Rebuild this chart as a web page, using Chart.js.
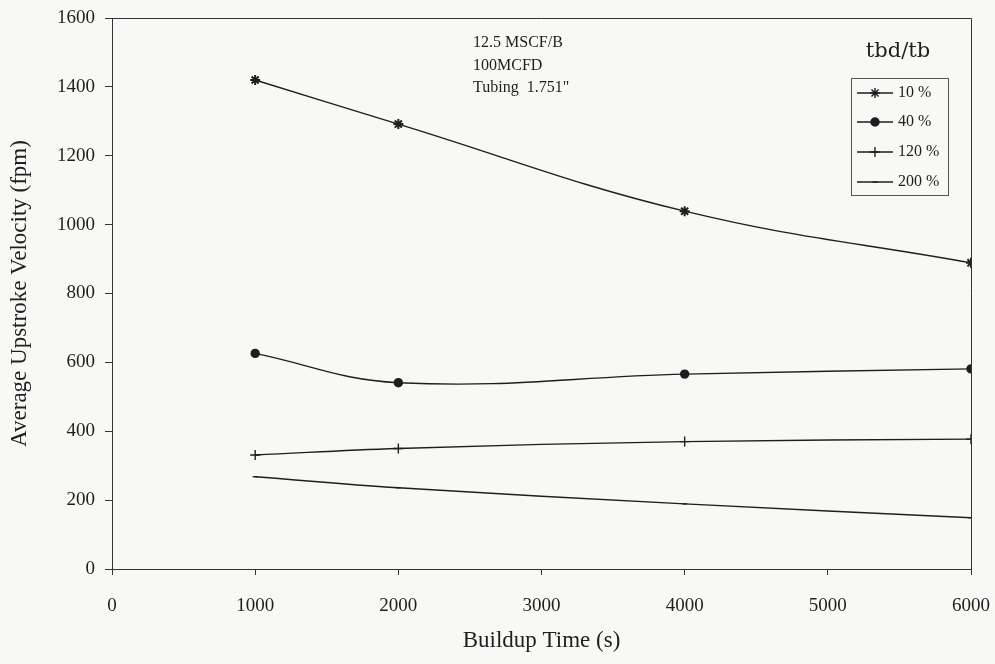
<!DOCTYPE html>
<html>
<head>
<meta charset="utf-8">
<script src="https://cdn.jsdelivr.net/npm/chart.js@4"></script>
<style>
  html, body { margin: 0; padding: 0; background: #f8f8f6; }
  #wrap { width: 995px; height: 664px; }
</style>
</head>
<body>
<div id="wrap"><canvas id="velChart" width="995" height="664"></canvas></div>
<script>
// Daten (Buildup-Zeit in s, Geschwindigkeit in fpm)
var buildupTime = [1000, 2000, 4000, 6000];
var vel10  = [1420, 1292, 1039, 889];
var vel40  = [626, 541, 566, 581];
var vel120 = [331, 350, 370, 377];
var vel200 = [268, 236, 189, 149];

var seriesNames  = ["10 %", "40 %", "120 %", "200 %"];
var seriesStyles = ["star", "circle", "cross", "line"];
var seriesRadius = [5, 4, 5, 2.5];
var notes = ["12.5 MSCF/B", "100MCFD", "Tubing  1.751\""];
var legendTitle = "tbd/tb";

var ink = "#1e1e1e";
var serif = "'Liberation Serif', 'DejaVu Serif', serif";

function toPoints(ys) {
    return buildupTime.map(function (t, i) { return { x: t, y: ys[i] }; });
}

function makeSet(label, ys, k) {
    return {
        label: label,
        data: toPoints(ys),
        borderColor: ink,
        backgroundColor: ink,
        borderWidth: 1.4,
        tension: 0.4,
        pointStyle: seriesStyles[k],
        pointRadius: seriesRadius[k],
        pointBorderWidth: k === 0 ? 2 : 1.4,
        fill: false
    };
}

function plainTick(v) { return String(v); }   // keine Tausender-Kommas

// Rahmen, Notiz und Legende per Hand zeichnen
var extras = {
    id: "extras",
    afterDraw: function (chart) {
        var ctx = chart.ctx;
        var a = chart.chartArea;
        ctx.save();
        ctx.strokeStyle = "#333";
        ctx.lineWidth = 1;
        ctx.beginPath();
        ctx.moveTo(a.left, a.top + 0.5);
        ctx.lineTo(a.right + 0.5, a.top + 0.5);
        ctx.lineTo(a.right + 0.5, a.bottom);
        ctx.stroke();

        // Notiz oben
        ctx.fillStyle = ink;
        ctx.font = "16px " + serif;
        ctx.textBaseline = "middle";
        ctx.textAlign = "left";
        for (var i = 0; i < notes.length; i++) {
            ctx.fillText(notes[i], 473, 43 + i * 22.5);
        }

        // Legende
        ctx.strokeStyle = "#555";
        ctx.strokeRect(851.5, 78.5, 97, 117);
        ctx.font = "21px 'DejaVu Serif', serif";
        ctx.textAlign = "center";
        ctx.fillText(legendTitle, 898, 52);
        ctx.font = "16px " + serif;
        ctx.textAlign = "left";
        var rowY = [93, 122, 152, 182];
        chart.data.datasets.forEach(function (ds, k) {
            var y = rowY[k];
            ctx.strokeStyle = ink;
            ctx.lineWidth = 1.4;
            ctx.beginPath();
            ctx.moveTo(857, y);
            ctx.lineTo(893, y);
            ctx.stroke();
            Chart.helpers.drawPoint(ctx, {
                pointStyle: ds.pointStyle,
                radius: ds.pointRadius,
                borderWidth: ds.pointBorderWidth
            }, 875, y);
            ctx.fillStyle = ink;
            ctx.fillText(seriesNames[k], 898, y);
        });
        ctx.restore();
    }
};

window.onload = function () {
    new Chart(document.getElementById("velChart"), {
        type: "line",
        data: {
            datasets: [
                makeSet(seriesNames[0], vel10, 0),
                makeSet(seriesNames[1], vel40, 1),
                makeSet(seriesNames[2], vel120, 2),
                makeSet(seriesNames[3], vel200, 3)
            ]
        },
        options: {
            responsive: false,
            animation: false,
            layout: { padding: { top: 18, right: 24, left: 0, bottom: 0 } },
            plugins: { legend: { display: false }, tooltip: { enabled: false } },
            scales: {
                x: {
                    type: "linear",
                    min: 0, max: 6000,
                    ticks: { stepSize: 1000, color: ink, padding: 20, callback: plainTick, font: { family: serif, size: 19 } },
                    grid: { drawOnChartArea: false, tickLength: 6, color: "#333" },
                    border: { color: "#333", width: 1 },
                    title: { display: true, text: "Buildup Time (s)", color: ink, padding: { top: 4, bottom: 9 }, font: { family: serif, size: 23 } },
                    afterFit: function (s) { s.height = 95; s.paddingLeft = 0; s.paddingRight = 0; }
                },
                y: {
                    min: 0, max: 1600,
                    ticks: { stepSize: 200, color: ink, padding: 10, callback: plainTick, font: { family: serif, size: 19 } },
                    grid: { drawOnChartArea: false, tickLength: 7, color: "#333" },
                    border: { color: "#333", width: 1 },
                    title: { display: true, text: "Average Upstroke Velocity (fpm)", color: ink, padding: { top: 6, bottom: 0 }, font: { family: serif, size: 23 } },
                    afterFit: function (s) { s.width = 112; s.paddingTop = 0; s.paddingBottom = 0; }
                }
            }
        },
        plugins: [extras]
    });
};
</script>
</body>
</html>
